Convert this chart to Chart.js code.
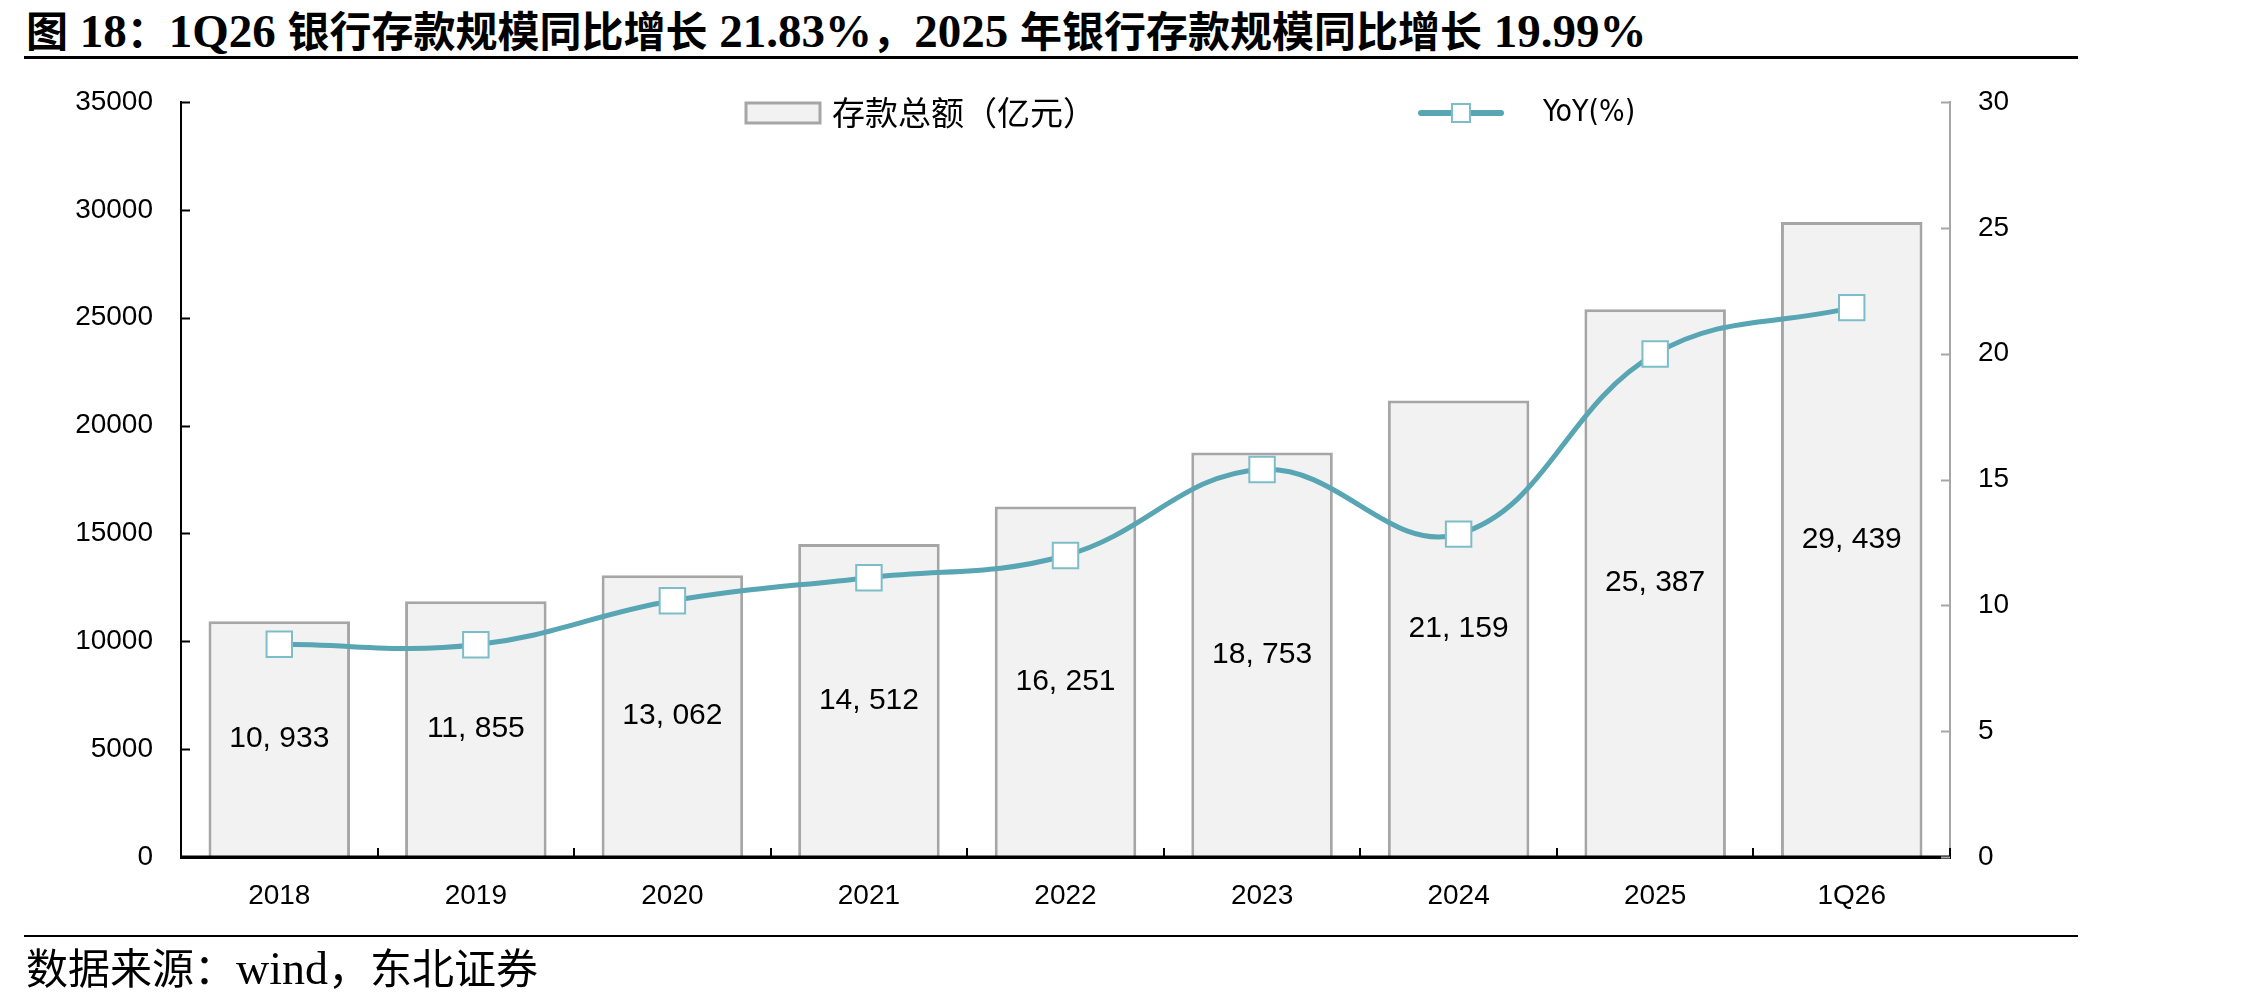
<!DOCTYPE html>
<html>
<head>
<meta charset="utf-8">
<script src="https://cdn.jsdelivr.net/npm/chart.js@4.4.1/dist/chart.umd.min.js"></script>
<style>
  html, body { margin: 0; padding: 0; background: #fff; }
  body { width: 2268px; height: 1004px; position: relative; overflow: hidden; }
  #chart { position: absolute; left: 0; top: 0; }
  #title {
    position: absolute; left: 26px; top: 3px; white-space: nowrap;
    font: bold 47px 'Liberation Serif', 'Noto Sans CJK SC', serif; line-height: 52px; color: #000;
  }
  #title .c { font-family: 'Noto Sans CJK SC', sans-serif; font-size: 42px; }
  .rule { position: absolute; left: 24px; width: 2054px; background: #000; }
  #source {
    position: absolute; left: 26px; top: 941px; white-space: nowrap;
    font: 46px 'Liberation Serif', 'Noto Sans CJK SC', serif; line-height: 50px; color: #000;
  }
  #source .c { font-family: 'Noto Sans CJK SC', sans-serif; font-size: 42px; }
</style>
</head>
<body>
<div id="title"><span class="c">图</span> 18<span class="c">：</span>1Q26 <span class="c">银行存款规模同比增长</span> 21.83%<span class="c">，</span>2025 <span class="c">年银行存款规模同比增长</span> 19.99%</div>
<div class="rule" style="top:56px;height:3px;"></div>
<canvas id="chart" width="2268" height="1004"></canvas>
<div class="rule" style="top:935px;height:2px;"></div>
<div id="source"><span class="c">数据来源：</span>wind<span class="c">，东北证券</span></div>

<script>
// data
const categories = ['2018', '2019', '2020', '2021', '2022', '2023', '2024', '2025', '1Q26'];
const deposits = [10933, 11855, 13062, 14512, 16251, 18753, 21159, 25387, 29439];
const yoy = [8.45, 8.43, 10.18, 11.10, 11.98, 15.40, 12.83, 19.99, 21.83];
const leftTicks = [0, 5000, 10000, 15000, 20000, 25000, 30000, 35000];
const rightTicks = [0, 5, 10, 15, 20, 25, 30];

const barLabel = '存款总额（亿元）';
const lineLabel = 'YoY(%)';

const TEAL = '#58a5b3';
const TEAL_LIGHT = '#7dbdc7';
const BAR_FILL = '#f2f2f2';
const BAR_EDGE = '#a6a6a6';
const NUM_FONT = "'Liberation Sans', Arial, sans-serif";

function fmt(v) {
    return v.toLocaleString('en-US').replace(',', ', ');
}

// value labels inside the bars, drawn right after the bar dataset
const barValues = {
    id: 'barValues',
    afterDatasetDraw(chart, args) {
        if (args.index !== 0) return;
        const ctx = chart.ctx;
        ctx.save();
        ctx.font = '30px ' + NUM_FONT;
        ctx.fillStyle = '#000';
        ctx.textAlign = 'center';
        ctx.textBaseline = 'middle';
        args.meta.data.forEach(function(bar, i) {
            ctx.fillText(fmt(deposits[i]), bar.x, (bar.y + bar.base) / 2);
        });
        ctx.restore();
    }
};

// bottom axis on top of the bars, and tick marks pointing into the plot
const innerTicks = {
    id: 'innerTicks',
    afterDraw(chart) {
        const ctx = chart.ctx;
        const area = chart.chartArea;
        const y = chart.scales.y, y1 = chart.scales.y1, x = chart.scales.x;
        ctx.save();
        ctx.strokeStyle = '#000';
        ctx.lineWidth = 3;
        ctx.beginPath();
        ctx.moveTo(area.left - 1, area.bottom);
        ctx.lineTo(area.right + 1, area.bottom);
        ctx.stroke();
        ctx.lineWidth = 2;
        ctx.beginPath();
        leftTicks.forEach(function(t) {
            const py = Math.round(y.getPixelForValue(t)) + 0.5;
            ctx.moveTo(area.left, py);
            ctx.lineTo(area.left + 9, py);
        });
        for (let i = 0; i <= categories.length; i++) {
            const px = Math.round(x.getPixelForValue(i - 0.5));
            ctx.moveTo(px, area.bottom);
            ctx.lineTo(px, area.bottom - 9);
        }
        ctx.stroke();
        ctx.strokeStyle = BAR_EDGE;
        ctx.beginPath();
        rightTicks.forEach(function(t) {
            const py = Math.round(y1.getPixelForValue(t)) + 0.5;
            ctx.moveTo(area.right, py);
            ctx.lineTo(area.right - 9, py);
        });
        ctx.stroke();
        ctx.restore();
    }
};

// legend sitting inside the top of the plot
const insideLegend = {
    id: 'insideLegend',
    afterDraw(chart) {
        const ctx = chart.ctx;
        const top = chart.chartArea.top;
        ctx.save();
        // bar swatch
        ctx.fillStyle = BAR_FILL;
        ctx.strokeStyle = BAR_EDGE;
        ctx.lineWidth = 3;
        ctx.fillRect(746, top + 1, 74, 20);
        ctx.strokeRect(746, top + 1, 74, 20);
        ctx.fillStyle = '#000';
        ctx.textBaseline = 'middle';
        ctx.font = "33px 'Noto Sans CJK SC', sans-serif";
        ctx.fillText(barLabel, 832, top + 10);
        // line swatch
        const ly = top + 11;
        ctx.strokeStyle = TEAL;
        ctx.lineWidth = 6;
        ctx.lineCap = 'round';
        ctx.beginPath();
        ctx.moveTo(1421, ly);
        ctx.lineTo(1501, ly);
        ctx.stroke();
        ctx.fillStyle = '#fff';
        ctx.strokeStyle = TEAL_LIGHT;
        ctx.lineWidth = 2;
        ctx.fillRect(1452, ly - 9, 18, 18);
        ctx.strokeRect(1452, ly - 9, 18, 18);
        ctx.fillStyle = '#000';
        ctx.font = "30px 'Liberation Sans Narrow', 'DejaVu Sans Condensed', sans-serif";
        ctx.fillText(lineLabel, 1543, ly);
        ctx.restore();
    }
};

const ctx = document.getElementById('chart').getContext('2d');
const chart = new Chart(ctx, {
    type: 'bar',
    data: {
        labels: categories,
        datasets: [{
            type: 'bar',
            label: barLabel,
            data: deposits,
            yAxisID: 'y',
            backgroundColor: BAR_FILL,
            borderColor: BAR_EDGE,
            borderWidth: 3,
            barPercentage: 0.72,
            categoryPercentage: 1,
            order: 1
        }, {
            type: 'line',
            label: lineLabel,
            data: yoy,
            yAxisID: 'y1',
            borderColor: TEAL,
            borderWidth: 5,
            tension: 0.4,
            fill: false,
            pointStyle: 'rect',
            pointRadius: 18,
            pointHoverRadius: 18,
            pointBackgroundColor: '#fff',
            pointBorderColor: TEAL_LIGHT,
            pointBorderWidth: 2,
            order: 0
        }]
    },
    options: {
        responsive: false,
        animation: false,
        devicePixelRatio: 1,
        layout: { padding: { top: 102, left: 0, right: 0, bottom: 0 } },
        plugins: {
            legend: { display: false },
            tooltip: { enabled: false }
        },
        scales: {
            x: {
                offset: true,
                grid: { display: false, drawTicks: false },
                border: { display: true, color: '#000', width: 3 },
                ticks: { color: '#000', font: { family: NUM_FONT, size: 28 }, padding: 22 },
                afterFit: function(scale) { scale.height = 147; }
            },
            y: {
                position: 'left',
                min: 0, max: 35000,
                afterBuildTicks: function(scale) { scale.ticks = leftTicks.map(v => ({ value: v })); },
                grid: { display: false, drawTicks: false },
                border: { display: true, color: '#000', width: 2 },
                ticks: {
                    color: '#000', font: { family: NUM_FONT, size: 28 }, padding: 28,
                    callback: function(v) { return String(v); }
                },
                afterFit: function(scale) { scale.width = 181; }
            },
            y1: {
                position: 'right',
                min: 0, max: 30,
                afterBuildTicks: function(scale) { scale.ticks = rightTicks.map(v => ({ value: v })); },
                grid: { display: false, drawTicks: false },
                border: { display: true, color: BAR_EDGE, width: 2 },
                ticks: {
                    color: '#000', font: { family: NUM_FONT, size: 28 }, padding: 28,
                    callback: function(v) { return String(v); }
                },
                afterFit: function(scale) { scale.width = 318; }
            }
        }
    },
    plugins: [barValues, innerTicks, insideLegend]
});
</script>
</body>
</html>
